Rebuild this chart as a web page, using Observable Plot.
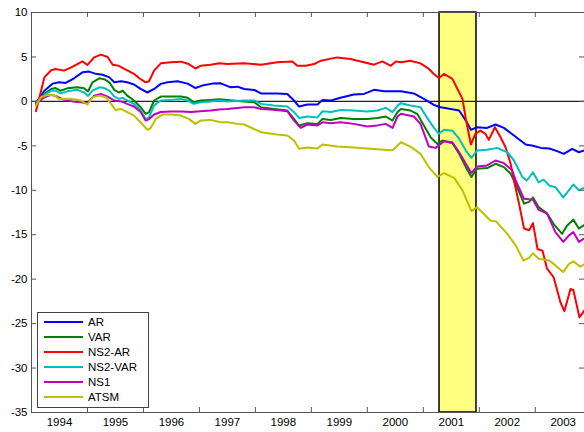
<!DOCTYPE html>
<html><head><meta charset="utf-8">
<script src="https://cdn.jsdelivr.net/npm/d3@7"></script>
<script src="https://cdn.jsdelivr.net/npm/@observablehq/plot@0.6"></script>
<style>
body{margin:0;background:#fff;}
#wrap{position:relative;width:584px;height:432px;overflow:hidden;font-family:"Liberation Sans",Arial,sans-serif;}
#legend{position:absolute;left:37px;top:312px;width:112px;height:96px;border:1px solid #444;background:#fff;box-sizing:border-box;padding-top:1px;}
.item{display:flex;align-items:center;height:15px;font-size:11.5px;color:#000;}
.sw{width:39px;height:2px;margin-left:6px;margin-right:5px;}
</style></head>
<body><div id="wrap"></div>
<script>
const seriesNames = ["AR","VAR","NS2-AR","NS2-VAR","NS1","ATSM"];
const seriesColors = ["#0000ff","#008000","#ff0000","#00bfbf","#bf00bf","#bfbf00"];
const yearLabels = [1994,1995,1996,1997,1998,1999,2000,2001,2002,2003];
const yTicks = [-35,-30,-25,-20,-15,-10,-5,0,5,10];
const recession = [{start:2001.29, end:2001.95}];

const ar = [[1994.08,-0.2],[1994.23,1.2],[1994.38,2.0],[1994.49,2.15],[1994.61,2.08],[1994.76,2.6],[1994.91,3.27],[1995.03,3.35],[1995.15,3.1],[1995.27,3.0],[1995.39,2.7],[1995.48,2.15],[1995.6,2.26],[1995.71,2.15],[1995.83,1.9],[1995.95,1.4],[1996.07,1.0],[1996.19,1.4],[1996.31,1.97],[1996.43,2.15],[1996.61,2.26],[1996.79,2.0],[1996.93,1.5],[1997.05,1.78],[1997.23,2.0],[1997.38,2.03],[1997.56,1.58],[1997.68,1.66],[1997.8,1.4],[1997.98,1.29],[1998.1,0.9],[1998.39,0.9],[1998.57,0.84],[1998.69,0.1],[1998.78,-0.58],[1998.93,-0.36],[1999.11,-0.36],[1999.2,0.17],[1999.35,0.1],[1999.52,0.4],[1999.76,0.77],[1999.94,0.84],[2000.12,1.3],[2000.3,1.13],[2000.6,1.13],[2000.83,0.9],[2001.01,0.28],[2001.19,-0.4],[2001.31,-0.66],[2001.49,-0.85],[2001.64,-1.03],[2001.76,-2.16],[2001.85,-3.2],[2001.96,-2.91],[2002.14,-2.98],[2002.29,-2.6],[2002.44,-2.98],[2002.62,-3.84],[2002.83,-4.85],[2002.96,-5.0],[2003.1,-5.23],[2003.25,-5.3],[2003.39,-5.6],[2003.51,-5.9],[2003.66,-5.34],[2003.78,-5.72],[2003.88,-5.5]];

const varS = [[1994.08,-0.2],[1994.23,0.84],[1994.35,1.4],[1994.43,1.5],[1994.52,1.2],[1994.64,1.47],[1994.82,1.58],[1994.94,1.47],[1995.01,1.13],[1995.09,2.15],[1995.21,2.6],[1995.3,2.5],[1995.39,2.15],[1995.48,1.3],[1995.56,1.0],[1995.63,1.2],[1995.71,0.65],[1995.83,0.1],[1995.95,-0.66],[1996.04,-1.4],[1996.1,-1.2],[1996.19,0.1],[1996.31,0.54],[1996.49,0.54],[1996.67,0.54],[1996.79,0.4],[1996.9,-0.1],[1997.02,0.1],[1997.2,0.17],[1997.35,0.24],[1997.5,0.17],[1997.8,0.0],[1997.98,-0.1],[1998.1,-0.66],[1998.33,-0.85],[1998.57,-1.03],[1998.69,-1.97],[1998.78,-2.72],[1998.93,-2.46],[1999.11,-2.53],[1999.2,-1.97],[1999.35,-2.1],[1999.52,-1.86],[1999.76,-1.97],[2000.0,-1.97],[2000.18,-1.86],[2000.33,-1.7],[2000.45,-2.16],[2000.54,-1.2],[2000.6,-0.85],[2000.77,-1.03],[2000.89,-1.4],[2001.01,-2.72],[2001.13,-4.03],[2001.25,-4.78],[2001.34,-4.4],[2001.52,-4.7],[2001.64,-5.9],[2001.76,-7.4],[2001.86,-8.5],[2001.96,-7.58],[2002.14,-7.5],[2002.29,-7.02],[2002.44,-7.4],[2002.5,-7.78],[2002.56,-8.15],[2002.65,-9.27],[2002.8,-11.5],[2002.89,-11.3],[2002.96,-10.8],[2003.06,-11.9],[2003.21,-12.6],[2003.33,-13.8],[2003.48,-14.9],[2003.57,-13.96],[2003.68,-13.3],[2003.78,-14.3],[2003.88,-13.9]];

const ns2ar = [[1994.08,-1.1],[1994.23,2.7],[1994.35,3.5],[1994.43,3.65],[1994.58,3.46],[1994.7,3.8],[1994.82,4.2],[1994.91,4.5],[1995.0,4.1],[1995.12,4.95],[1995.24,5.26],[1995.36,5.0],[1995.45,4.13],[1995.56,4.0],[1995.71,3.5],[1995.83,3.1],[1995.95,2.5],[1996.04,2.15],[1996.1,2.26],[1996.19,3.46],[1996.31,4.28],[1996.49,4.4],[1996.67,4.47],[1996.81,4.2],[1996.93,3.7],[1997.02,4.0],[1997.2,4.13],[1997.35,4.3],[1997.5,4.2],[1997.8,4.28],[1998.1,4.13],[1998.39,4.4],[1998.66,4.5],[1998.75,4.0],[1998.9,4.0],[1999.05,4.2],[1999.17,4.58],[1999.46,4.95],[1999.7,4.77],[1999.94,4.4],[2000.12,4.13],[2000.27,4.5],[2000.42,4.0],[2000.51,4.5],[2000.6,4.4],[2000.77,4.58],[2000.95,4.28],[2001.1,3.65],[2001.19,3.09],[2001.28,2.64],[2001.37,3.09],[2001.52,2.53],[2001.61,1.4],[2001.7,0.28],[2001.76,-1.97],[2001.85,-4.85],[2001.93,-3.65],[2002.02,-3.28],[2002.11,-3.65],[2002.17,-4.33],[2002.28,-2.91],[2002.38,-4.03],[2002.47,-5.16],[2002.56,-7.02],[2002.62,-8.9],[2002.71,-11.5],[2002.8,-14.3],[2002.89,-14.5],[2002.96,-13.7],[2003.04,-16.6],[2003.13,-16.8],[2003.21,-18.8],[2003.33,-19.8],[2003.45,-22.6],[2003.52,-23.6],[2003.63,-21.1],[2003.68,-21.2],[2003.79,-24.3],[2003.88,-23.5]];

const ns2var = [[1994.08,-0.2],[1994.23,0.7],[1994.35,1.2],[1994.43,1.2],[1994.52,0.9],[1994.64,1.13],[1994.82,1.3],[1994.94,1.0],[1995.01,0.6],[1995.09,1.2],[1995.21,1.58],[1995.3,1.5],[1995.39,1.2],[1995.48,0.54],[1995.56,0.28],[1995.63,0.4],[1995.71,0.1],[1995.83,-0.28],[1995.95,-1.03],[1996.04,-1.97],[1996.1,-1.8],[1996.19,-0.47],[1996.31,0.1],[1996.49,0.17],[1996.67,0.28],[1996.79,0.1],[1996.9,-0.28],[1997.02,-0.1],[1997.2,0.0],[1997.35,0.1],[1997.5,0.0],[1997.8,0.1],[1997.98,0.1],[1998.1,-0.28],[1998.33,-0.45],[1998.57,-0.58],[1998.69,-1.2],[1998.78,-1.86],[1998.93,-1.7],[1999.11,-1.8],[1999.2,-1.1],[1999.35,-1.2],[1999.52,-0.96],[1999.76,-1.03],[2000.0,-1.15],[2000.18,-1.03],[2000.33,-0.73],[2000.45,-1.2],[2000.54,-0.47],[2000.6,-0.2],[2000.77,-0.47],[2000.95,-0.66],[2001.07,-1.86],[2001.19,-2.98],[2001.28,-3.65],[2001.37,-3.2],[2001.52,-3.3],[2001.64,-4.2],[2001.76,-5.53],[2001.86,-6.35],[2001.96,-5.53],[2002.14,-5.45],[2002.32,-5.23],[2002.5,-5.72],[2002.62,-6.65],[2002.77,-8.5],[2002.85,-8.9],[2002.96,-7.97],[2003.06,-9.1],[2003.15,-8.8],[2003.25,-9.46],[2003.36,-9.65],[2003.5,-10.8],[2003.6,-10.0],[2003.68,-9.35],[2003.78,-10.0],[2003.88,-9.7]];

const ns1 = [[1994.08,-0.3],[1994.23,0.47],[1994.35,0.73],[1994.46,0.54],[1994.58,0.17],[1994.73,0.0],[1994.88,-0.1],[1995.0,-0.2],[1995.12,0.65],[1995.24,0.84],[1995.36,0.54],[1995.48,0.1],[1995.6,0.0],[1995.71,-0.28],[1995.83,-0.58],[1995.95,-1.2],[1996.04,-2.16],[1996.1,-2.0],[1996.19,-1.48],[1996.31,-1.2],[1996.49,-1.15],[1996.67,-1.15],[1996.85,-1.2],[1997.02,-1.1],[1997.2,-1.03],[1997.35,-0.92],[1997.5,-0.85],[1997.8,-0.66],[1997.98,-0.66],[1998.1,-0.85],[1998.33,-0.95],[1998.57,-1.1],[1998.69,-2.16],[1998.81,-2.98],[1998.93,-2.6],[1999.11,-2.7],[1999.2,-2.35],[1999.35,-2.45],[1999.52,-2.35],[1999.76,-2.53],[2000.0,-2.83],[2000.18,-2.7],[2000.33,-2.53],[2000.45,-2.98],[2000.54,-1.7],[2000.6,-1.4],[2000.83,-1.7],[2000.95,-2.53],[2001.1,-5.08],[2001.22,-5.23],[2001.37,-4.48],[2001.52,-4.6],[2001.64,-5.72],[2001.76,-7.02],[2001.86,-8.07],[2001.96,-7.33],[2002.14,-7.2],[2002.29,-6.65],[2002.44,-6.95],[2002.59,-7.78],[2002.65,-8.9],[2002.8,-10.96],[2002.96,-11.07],[2003.06,-12.2],[2003.21,-12.6],[2003.36,-14.7],[2003.5,-15.8],[2003.6,-15.1],[2003.68,-14.7],[2003.78,-15.8],[2003.88,-15.4]];

const atsm = [[1994.08,-0.47],[1994.17,0.47],[1994.29,0.73],[1994.4,0.73],[1994.49,0.28],[1994.58,0.3],[1994.73,0.28],[1994.88,0.1],[1995.0,-0.36],[1995.09,0.47],[1995.21,0.65],[1995.33,0.47],[1995.42,-0.28],[1995.5,-0.96],[1995.6,-0.85],[1995.71,-1.2],[1995.83,-1.6],[1995.95,-2.35],[1996.07,-3.2],[1996.13,-3.0],[1996.22,-1.97],[1996.34,-1.48],[1996.49,-1.48],[1996.67,-1.6],[1996.81,-1.97],[1996.93,-2.53],[1997.02,-2.16],[1997.2,-2.08],[1997.38,-2.35],[1997.5,-2.35],[1997.68,-2.53],[1997.8,-2.6],[1998.1,-3.47],[1998.39,-3.73],[1998.57,-3.84],[1998.69,-4.4],[1998.78,-5.34],[1998.93,-5.2],[1999.11,-5.3],[1999.2,-4.85],[1999.46,-5.08],[1999.76,-5.2],[2000.06,-5.34],[2000.3,-5.45],[2000.45,-5.5],[2000.6,-4.6],[2000.77,-5.08],[2000.95,-5.9],[2001.1,-7.4],[2001.25,-8.5],[2001.37,-8.07],[2001.55,-8.6],[2001.7,-10.0],[2001.86,-12.35],[2001.96,-11.9],[2002.2,-13.4],[2002.3,-13.5],[2002.5,-14.9],[2002.65,-16.2],[2002.79,-17.9],[2002.89,-17.6],[2002.96,-17.1],[2003.06,-17.7],[2003.25,-17.9],[2003.36,-18.45],[2003.5,-19.2],[2003.6,-18.3],[2003.68,-18.0],[2003.81,-18.6],[2003.88,-18.3]];

const seriesValues = [ar, varS, ns2ar, ns2var, ns1, atsm];
const data = seriesNames.flatMap((name, i) => seriesValues[i].map(([t, v]) => ({name, t, v})));
const xTicks = yearLabels.slice(1);
const font = '"Liberation Sans", Arial, sans-serif';
const plotW = 584 - 31, plotH = 432 - 12 - 20;

const chart = Plot.plot({
  width: 584, height: 432,
  marginLeft: 31, marginRight: 0, marginTop: 12, marginBottom: 20,
  style: {fontFamily: font, fontSize: "11.5px", background: "#fff", color: "#000"},
  x: {domain: [1994, 2003.88]},
  y: {domain: [-35, 10]},
  color: {domain: seriesNames, range: seriesColors},
  marks: [
    Plot.rect(recession, {x1: "start", x2: "end", fill: "#ffff80", stroke: "#000", strokeWidth: 1.5}),
    Plot.ruleY([0], {stroke: "#222", strokeWidth: 1.2}),
    Plot.line(data, {x: "t", y: "v", z: "name", stroke: "name", strokeWidth: 2, clip: true}),
    Plot.frame({stroke: "#555"}),
    Plot.tickY(yTicks, {y: d => d, stroke: "#555", insetRight: plotW - 5}),
    Plot.tickY(yTicks, {y: d => d, stroke: "#555", insetLeft: plotW - 5}),
    Plot.tickX(xTicks, {x: d => d, stroke: "#555", insetBottom: plotH - 5}),
    Plot.tickX(xTicks, {x: d => d, stroke: "#555", insetTop: plotH - 5}),
    Plot.axisY(yTicks, {tickSize: 0, tickPadding: 4, tickFormat: d => String(d), label: null}),
    Plot.axisX(yearLabels.map(y => y + 0.5), {tickSize: 0, tickPadding: 5, tickFormat: d => String(Math.floor(d)), label: null})
  ]
});
const wrap = document.getElementById("wrap");
wrap.appendChild(chart);

const legend = document.createElement("div");
legend.id = "legend";
seriesNames.forEach((name, i) => {
  const item = document.createElement("div");
  item.className = "item";
  const sw = document.createElement("span");
  sw.className = "sw";
  sw.style.background = seriesColors[i];
  const label = document.createElement("span");
  label.textContent = name;
  item.appendChild(sw);
  item.appendChild(label);
  legend.appendChild(item);
});
wrap.appendChild(legend);
</script>
</body></html>
